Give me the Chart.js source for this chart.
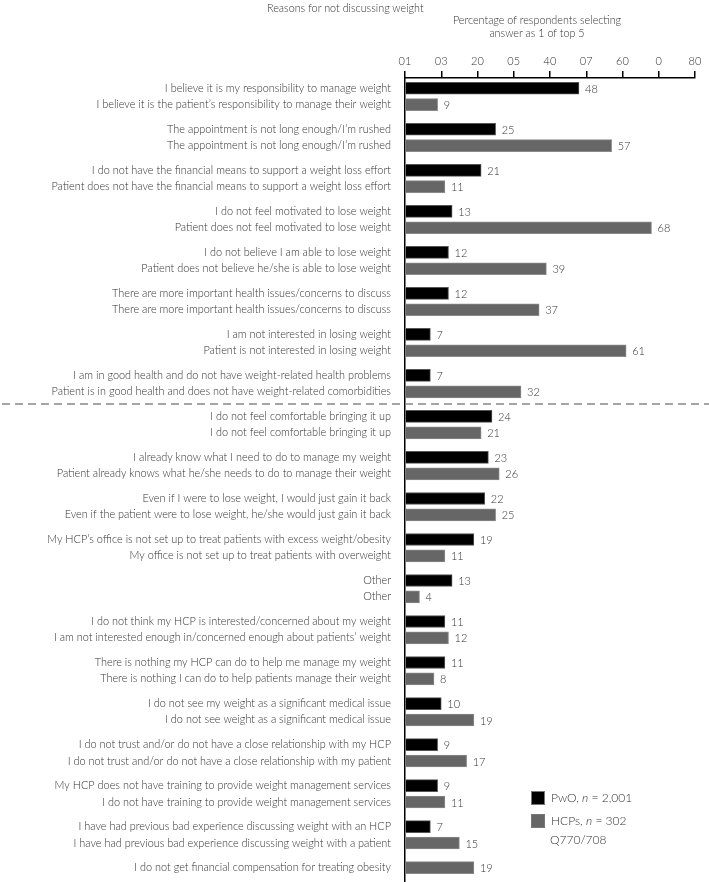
<!DOCTYPE html>
<html lang="en">
<head>
<meta charset="UTF-8">
<title>Reasons for not discussing weight</title>
<style>
    body {
        margin: 0;
        padding: 0;
        background: #fff;
        font-family: Lato, "Open Sans", sans-serif;
        color: #333;
    }
    .wrap {
        position: relative;
        width: 709px;
        height: 882px;
    }
    .head {
        position: absolute;
        font-size: 10.8px;
        font-weight: 300;
        white-space: nowrap;
        line-height: 13px;
    }
    .legend {
        position: absolute;
        left: 531px;
        top: 786px;
        font-size: 12px;
        font-weight: 300;
        line-height: 23px;
    }
    .legend span.box {
        display: inline-block;
        width: 12px;
        height: 12px;
        vertical-align: -3px;
        margin-right: 6px;
        border: 1px solid #777;
    }
</style>
<script src="https://cdn.jsdelivr.net/npm/chart.js"></script>
</head>
<body>
<div class="wrap">
    <canvas id="chart" width="709" height="882"></canvas>
    <div class="head" style="left:267px; top:1px;">Reasons for not discussing weight</div>
    <div class="head" style="left:437px; top:13px; width:200px; text-align:center;">Percentage of respondents selecting<br>answer as 1 of top 5</div>
    <div class="legend">
        <div><span class="box" style="background:#000"></span>PwO, <i>n</i> = 2,001</div>
        <div><span class="box" style="background:#666"></span>HCPs, <i>n</i> = 302</div>
        <div style="margin-left:19px; line-height:16px;">Q770/708</div>
    </div>
</div>
<script>
// answers from people with obesity (PwO) and from HCPs, one entry per reason
const pwoLabels = [
    'I believe it is my responsibility to manage weight',
    'The appointment is not long enough/I\u2019m rushed',
    'I do not have the financial means to support a weight loss effort',
    'I do not feel motivated to lose weight',
    'I do not believe I am able to lose weight',
    'There are more important health issues/concerns to discuss',
    'I am not interested in losing weight',
    'I am in good health and do not have weight-related health problems',
    'I do not feel comfortable bringing it up',
    'I already know what I need to do to manage my weight',
    'Even if I were to lose weight, I would just gain it back',
    'My HCP\u2019s office is not set up to treat patients with excess weight/obesity',
    'Other',
    'I do not think my HCP is interested/concerned about my weight',
    'There is nothing my HCP can do to help me manage my weight',
    'I do not see my weight as a significant medical issue',
    'I do not trust and/or do not have a close relationship with my HCP',
    'My HCP does not have training to provide weight management services',
    'I have had previous bad experience discussing weight with an HCP',
    null
];
const hcpLabels = [
    'I believe it is the patient\u2019s responsibility to manage their weight',
    'The appointment is not long enough/I\u2019m rushed',
    'Patient does not have the financial means to support a weight loss effort',
    'Patient does not feel motivated to lose weight',
    'Patient does not believe he/she is able to lose weight',
    'There are more important health issues/concerns to discuss',
    'Patient is not interested in losing weight',
    'Patient is in good health and does not have weight-related comorbidities',
    'I do not feel comfortable bringing it up',
    'Patient already knows what he/she needs to do to manage their weight',
    'Even if the patient were to lose weight, he/she would just gain it back',
    'My office is not set up to treat patients with overweight',
    'Other',
    'I am not interested enough in/concerned enough about patients\u2019 weight',
    'There is nothing I can do to help patients manage their weight',
    'I do not see weight as a significant medical issue',
    'I do not trust and/or do not have a close relationship with my patient',
    'I do not have training to provide weight management services',
    'I have had previous bad experience discussing weight with a patient',
    'I do not get financial compensation for treating obesity'
];
const pwoValues = [48, 25, 21, 13, 12, 12, 7, 7, 24, 23, 22, 19, 13, 11, 11, 10, 9, 9, 7, null];
const hcpValues = [9, 57, 11, 68, 39, 37, 61, 32, 21, 26, 25, 11, 4, 12, 8, 19, 17, 11, 15, 19];
const xTickLabels = ['01', '03', '20', '05', '40', '07', '60', '0', '80'];
const splitAfter = 7; // dashed divider after this reason

// two bars per reason: first slot above the reason centre, second below
const rows = [];
const pwoData = [];
const hcpData = [];
pwoValues.forEach((v, i) => {
    let slot = -0.2;
    if (v !== null) {
        rows.push({ pos: i + slot, label: pwoLabels[i] });
        pwoData.push({ x: v, y: i + slot });
        slot = 0.2;
    }
    rows.push({ pos: i + slot, label: hcpLabels[i] });
    hcpData.push({ x: hcpValues[i], y: i + slot });
});

const FONT = 'Lato, "Open Sans", sans-serif';

const valueLabels = {
    id: 'valueLabels',
    afterDatasetsDraw(chart) {
        const ctx = chart.ctx;
        ctx.save();
        ctx.font = '300 11px ' + FONT;
        ctx.fillStyle = '#333';
        ctx.textBaseline = 'middle';
        chart.data.datasets.forEach((ds, di) => {
            chart.getDatasetMeta(di).data.forEach((bar, j) => {
                ctx.fillText(ds.data[j].x, bar.x + 6, bar.y + 1);
            });
        });
        ctx.restore();
    }
};

const divider = {
    id: 'divider',
    afterDraw(chart) {
        const ctx = chart.ctx;
        const y = chart.scales.y.getPixelForValue(splitAfter + 0.5);
        ctx.save();
        ctx.strokeStyle = '#888';
        ctx.lineWidth = 1.5;
        ctx.setLineDash([8, 5]);
        ctx.beginPath();
        ctx.moveTo(2, y);
        ctx.lineTo(chart.width, y);
        ctx.stroke();
        ctx.restore();
    }
};

new Chart(document.getElementById('chart'), {
    type: 'bar',
    data: {
        datasets: [
            {
                label: 'PwO',
                data: pwoData,
                backgroundColor: '#000',
                borderColor: '#555',
                borderWidth: 1,
                grouped: false,
                barThickness: 12
            },
            {
                label: 'HCPs',
                data: hcpData,
                backgroundColor: '#666',
                borderColor: '#8a8a8a',
                borderWidth: 1,
                grouped: false,
                barThickness: 12
            }
        ]
    },
    options: {
        indexAxis: 'y',
        responsive: false,
        animation: false,
        layout: { padding: { top: 0, right: 14, bottom: 0, left: 0 } },
        scales: {
            x: {
                type: 'linear',
                position: 'top',
                min: 0,
                max: 80,
                grid: {
                    drawOnChartArea: false,
                    color: '#000',
                    tickLength: 7,
                    lineWidth: 1.5
                },
                border: { color: '#000', width: 1.5 },
                ticks: {
                    stepSize: 10,
                    padding: 3,
                    color: '#333',
                    font: { family: FONT, size: 11, weight: '300' },
                    callback: (v, i) => xTickLabels[i]
                },
                afterFit: s => {
                    s.height = 78;
                    s.paddingLeft = 0;
                    s.paddingRight = 0;
                }
            },
            y: {
                type: 'linear',
                reverse: true,
                offset: false,
                min: -0.45,
                max: 19.15,
                grid: { display: false, offset: false },
                border: { color: '#000', width: 1.5 },
                afterBuildTicks: s => { s.ticks = rows.map(r => ({ value: r.pos })); },
                ticks: {
                    autoSkip: false,
                    padding: 6,
                    color: '#333',
                    font: { family: FONT, size: 10.9, weight: '300' },
                    callback: (v, i) => rows[i].label
                },
                afterFit: s => {
                    s.width = 405;
                    s.paddingTop = 0;
                    s.paddingBottom = 0;
                }
            }
        },
        plugins: {
            legend: { display: false },
            tooltip: { enabled: false }
        }
    },
    plugins: [valueLabels, divider]
});
</script>
</body>
</html>
